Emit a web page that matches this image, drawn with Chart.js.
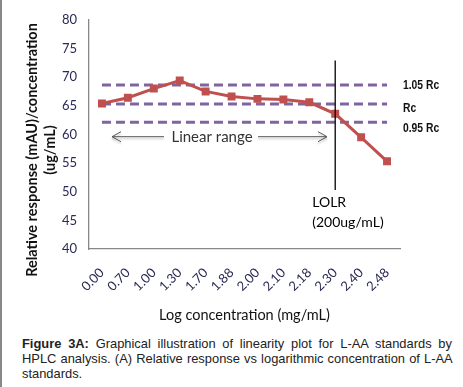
<!DOCTYPE html>
<html>
<head>
<meta charset="utf-8">
<script src="https://cdn.jsdelivr.net/npm/chart.js@4"></script>
<style>
  html, body { margin: 0; padding: 0; background: #fff; }
  body { width: 463px; height: 387px; position: relative; overflow: hidden; }
  .edge { position: absolute; left: 0; top: 0; width: 2px; height: 387px; background: #888; }
  #wrap { position: absolute; left: 0; top: 0; width: 463px; height: 330px; }
  .caption {
    position: absolute; left: 22px; top: 336px; width: 430px;
    font-family: "Liberation Sans", Arial, sans-serif; font-size: 12.9px; line-height: 15px;
    text-align: justify; color: #222;
  }
  .nb { white-space: nowrap; }
</style>
</head>
<body>
<div class="edge"></div>
<div id="wrap"><canvas id="chart"></canvas></div>
<div class="caption"><b>Figure 3A:</b> Graphical illustration of linearity plot for <span class="nb">L-AA</span> standards by HPLC analysis. (A) Relative response vs logarithmic concentration of <span class="nb">L-AA</span> standards.</div>
<script>
document.addEventListener('DOMContentLoaded', () => {
    // -- Data --
    const logConc = ['0.00', '0.70', '1.00', '1.30', '1.70', '1.88', '2.00', '2.10', '2.18', '2.30', '2.40', '2.48'];
    const relResponse = [65.4, 66.4, 68.0, 69.4, 67.5, 66.6, 66.2, 66.1, 65.6, 63.6, 59.5, 55.3];
    const upperRc = 68.6;   // 1.05 Rc
    const meanRc = 65.3;    // Rc
    const lowerRc = 62.1;   // 0.95 Rc
    const lolrAt = '2.30';
    const lolrSpan = [72.9, 50.3];
    const yTicks = [40, 45, 50, 55, 60, 65, 70, 75, 80];
    const yTitle = ['Relative response (mAU)/concentration', '(ug/mL)'];

    const first = logConc[0];
    const last = logConc[logConc.length - 1];
    const refLine = (v) => [{ x: first, y: v }, { x: last, y: v }];

    const purple = '#8064A2';
    const red = '#C0504D';

    // -- Annotation text & arrows --
    const annotations = {
        id: 'annotations',
        afterDatasetsDraw(chart) {
            const ctx = chart.ctx;
            const x = chart.scales.x;
            const y = chart.scales.y;
            ctx.save();

            // y axis title (sits a bit below the plot centre, like the original)
            ctx.save();
            ctx.translate(32, 150);
            ctx.rotate(-Math.PI / 2);
            ctx.font = 'bold 14.5px Lato, sans-serif';
            ctx.fillStyle = '#111';
            ctx.textAlign = 'center';
            ctx.textBaseline = 'middle';
            ctx.fillText(yTitle[0], 0, 0);
            ctx.fillText(yTitle[1], 0, 18);
            ctx.restore();

            // right-hand limit labels
            ctx.fillStyle = '#111';
            ctx.font = 'bold 12px "Liberation Sans Narrow", "Liberation Sans", Arial, sans-serif';
            ctx.textAlign = 'left';
            ctx.textBaseline = 'middle';
            const lx = x.right + 3;
            const narrow = (txt, yy) => {
                ctx.save();
                ctx.translate(lx, yy);
                ctx.scale(0.86, 1);
                ctx.fillText(txt, 0, 0);
                ctx.restore();
            };
            narrow('1.05 Rc', y.getPixelForValue(upperRc) + 1);
            narrow('Rc', y.getPixelForValue(meanRc) + 5);
            narrow('0.95 Rc', y.getPixelForValue(lowerRc) + 6);

            // LOLR label
            ctx.font = '14px Lato, sans-serif';
            ctx.fillStyle = '#000';
            const px = x.getPixelForValue(logConc.indexOf(lolrAt)) - 23;
            ctx.fillText('LOLR', px, y.getPixelForValue(48.2));
            ctx.fillText('(200ug/mL)', px, y.getPixelForValue(44.6));

            // Linear range text with arrows
            const ay = y.getPixelForValue(59.6);
            ctx.font = '15px Lato, sans-serif';
            ctx.fillStyle = '#333';
            ctx.textAlign = 'center';
            ctx.fillText('Linear range', 212, ay);
            ctx.strokeStyle = '#555';
            ctx.lineWidth = 1;
            ctx.shadowColor = 'rgba(0,0,0,0.25)';
            ctx.shadowOffsetY = 2;
            ctx.shadowBlur = 2;
            ctx.beginPath();
            ctx.moveTo(112, ay); ctx.lineTo(164, ay);
            ctx.moveTo(121, ay - 5); ctx.lineTo(112, ay); ctx.lineTo(121, ay + 5);
            ctx.moveTo(258, ay); ctx.lineTo(327, ay);
            ctx.moveTo(318, ay - 5); ctx.lineTo(327, ay); ctx.lineTo(318, ay + 5);
            ctx.stroke();
            ctx.restore();
        }
    };

    new Chart(document.getElementById('chart'), {
        type: 'line',
        data: {
            labels: logConc,
            datasets: [
                {
                    label: 'LOLR',
                    data: [{ x: lolrAt, y: lolrSpan[0] }, { x: lolrAt, y: lolrSpan[1] }],
                    borderColor: '#000',
                    borderWidth: 1.3,
                    pointRadius: 0,
                    order: 0
                },
                {
                    label: 'Relative response',
                    data: relResponse,
                    borderColor: red,
                    backgroundColor: red,
                    borderWidth: 3,
                    pointStyle: 'rect',
                    pointRadius: 3.5,
                    tension: 0,
                    order: 1
                },
                {
                    label: '1.05 Rc',
                    data: refLine(upperRc),
                    borderColor: purple,
                    borderWidth: 3,
                    borderDash: [9, 5],
                    pointRadius: 0,
                    order: 2
                },
                {
                    label: 'Rc',
                    data: refLine(meanRc),
                    borderColor: purple,
                    borderWidth: 3,
                    borderDash: [9, 5],
                    pointRadius: 0,
                    order: 2
                },
                {
                    label: '0.95 Rc',
                    data: refLine(lowerRc),
                    borderColor: purple,
                    borderWidth: 3,
                    borderDash: [9, 5],
                    pointRadius: 0,
                    order: 2
                }
            ]
        },
        options: {
            responsive: true,
            maintainAspectRatio: false,
            animation: false,
            layout: { padding: { left: 0, right: 63, top: 19, bottom: 6 } },
            plugins: {
                legend: { display: false },
                tooltip: { enabled: false }
            },
            scales: {
                x: {
                    type: 'category',
                    offset: true,
                    grid: { display: false, drawTicks: false },
                    border: { color: '#888', width: 1.3 },
                    ticks: {
                        color: '#2a2a55',
                        font: { family: 'Lato', size: 13 },
                        minRotation: 45,
                        maxRotation: 45,
                        autoSkip: false,
                        padding: 16
                    },
                    title: {
                        display: true,
                        text: 'Log concentration (mg/mL)',
                        color: '#111',
                        font: { family: 'Lato', size: 14.5 },
                        padding: { top: 4, bottom: 0 }
                    },
                    afterFit(scale) { scale.height = 75; }
                },
                y: {
                    min: 40,
                    max: 80,
                    afterBuildTicks(scale) { scale.ticks = yTicks.map(v => ({ value: v })); },
                    grid: { display: false, drawTicks: false },
                    border: { color: '#888', width: 1.3 },
                    ticks: {
                        color: '#2a2a55',
                        font: { family: 'Lato', size: 13 },
                        padding: 12
                    },
                    afterFit(scale) { scale.width = 89; }
                }
            }
        },
        plugins: [annotations]
    });
});
</script>
</body>
</html>
